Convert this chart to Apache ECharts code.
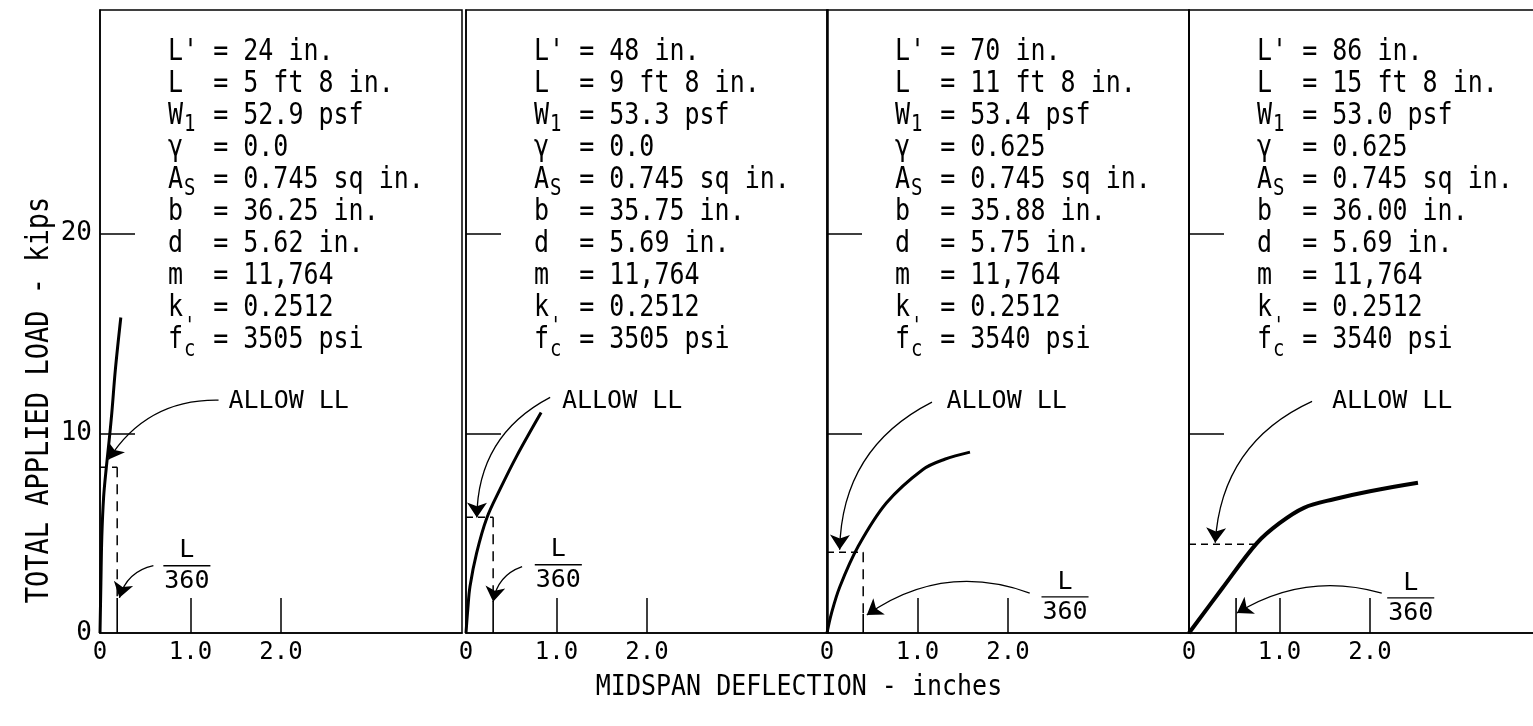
<!DOCTYPE html>
<html>
<head>
<meta charset="utf-8">
<script src="https://cdn.jsdelivr.net/npm/echarts@6/dist/echarts.min.js"></script>
<style>
  html, body { margin: 0; padding: 0; background: #fff; }
  #chart { width: 1533px; height: 726px; }
</style>
</head>
<body>
<div id="chart"></div>
<script>
// Total applied load vs. midspan deflection for four slab spans.

// Axis ticks and labels
const xTickValues = [0, 1, 2];
const xTickLabels = ['0', '1.0', '2.0'];
const yTickValues = [0, 10, 20];
const yTickLabels = ['0', '10', '20'];

// Load–deflection curves [deflection in., load kips]
const curveSpan24 = [[0, 0], [0.01, 2.5], [0.02, 4.8], [0.04, 6.8], [0.07, 8.3], [0.1, 9.6], [0.13, 11.0], [0.17, 13.2], [0.23, 15.8]];
const curveSpan48 = [[0, 0], [0.02, 1.2], [0.044, 2.33], [0.117, 4.0], [0.23, 5.76], [0.375, 7.19], [0.56, 8.86], [0.83, 11.04]];
const curveSpan70 = [[0, 0], [0.05, 1.0], [0.143, 2.33], [0.345, 4.34], [0.658, 6.52], [1.06, 8.19], [1.3, 8.7], [1.58, 9.06]];
const curveSpan86 = [[0, 0], [0.37, 2.25], [0.75, 4.5], [1.0, 5.5], [1.27, 6.27], [1.6, 6.7], [2.0, 7.1], [2.53, 7.52]];
const curves = [curveSpan24, curveSpan48, curveSpan70, curveSpan86];

// Allowable live load (kips) and deflection where it meets the curve (in.)
const allowLoad = [8.3, 5.8, 4.05, 4.45];
const allowDefl = [0.19, 0.3, 0.4, 0.74];
// L/360 deflection limit (in.) and height of its solid marker (kips)
const limitDefl = [0.19, 0.3, 0.4, 0.52];
const limitMarkTop = [1.75, 1.6, 0.95, 1.75];
const limitDashed = [true, true, true, false];

// Test parameters per span
const paramLp = ['24 in.', '48 in.', '70 in.', '86 in.'];
const paramL = ['5 ft 8 in.', '9 ft 8 in.', '11 ft 8 in.', '15 ft 8 in.'];
const paramW1 = ['52.9 psf', '53.3 psf', '53.4 psf', '53.0 psf'];
const paramGamma = ['0.0', '0.0', '0.625', '0.625'];
const paramAs = ['0.745 sq in.', '0.745 sq in.', '0.745 sq in.', '0.745 sq in.'];
const paramB = ['36.25 in.', '35.75 in.', '35.88 in.', '36.00 in.'];
const paramD = ['5.62 in.', '5.69 in.', '5.75 in.', '5.69 in.'];
const paramM = ['11,764', '11,764', '11,764', '11,764'];
const paramK = ['0.2512', '0.2512', '0.2512', '0.2512'];
const paramFc = ['3505 psi', '3505 psi', '3540 psi', '3540 psi'];

// Annotation anchors (data units)
const allowLabelAt = [[1.42, 11.6], [1.06, 11.6], [1.32, 11.6], [1.58, 11.6]];
const allowArrow = [
  [[1.31, 11.66], [0.094, 8.69]],
  [[0.93, 11.8], [0.12, 5.78]],
  [[1.16, 11.56], [0.14, 4.17]],
  [[1.36, 11.6], [0.29, 4.52]]
];
const allowArrowBend = [-0.28, -0.3, -0.3, -0.3];
const limitLabelAt = [[0.96, 3.37], [1.02, 3.42], [2.63, 1.81], [2.45, 1.76]];
const limitBarHalf = 0.26;
const limitArrow = [
  [[0.59, 3.37], [0.215, 1.76]],
  [[0.62, 3.32], [0.3, 1.56]],
  [[2.24, 2.0], [0.44, 0.9]],
  [[2.13, 2.0], [0.53, 1.0]]
];
const limitArrowBend = [-0.3, -0.3, -0.26, -0.22];

// Layout
const FONT = '"DejaVu Sans Mono", "Liberation Mono", monospace';
const INK = '#000';
const gridLeft = [100, 466, 827, 1189];
const gridTop = 10;
const gridWidth = 362;
const gridHeight = 623;
const xMax = 4;
const yMax = 31.2;
const blockFont = 25;
const blockScaleY = 1.2;
const blockTop = 52;
const blockPitch = 32;

const chart = echarts.init(document.getElementById('chart'), null, { renderer: 'canvas' });

const grids = [], xAxes = [], yAxes = [], series = [], graphics = [];

curves.forEach((curve, i) => {
  grids.push({
    left: gridLeft[i], top: gridTop, width: gridWidth, height: gridHeight,
    outerBoundsMode: 'none', containLabel: false,
    show: true, borderColor: INK, borderWidth: 1.5, backgroundColor: 'transparent'
  });
  xAxes.push({
    type: 'value', gridIndex: i, min: 0, max: xMax, interval: 1,
    axisLine: { show: true, onZero: false, lineStyle: { color: INK, width: 1.5 } },
    axisTick: { show: true, inside: true, length: 35, customValues: [1, 2], lineStyle: { color: INK, width: 1.5 } },
    axisLabel: {
      show: true, customValues: xTickValues, color: INK, fontFamily: FONT, fontSize: 24, margin: 8,
      formatter: v => xTickLabels[xTickValues.indexOf(v)]
    },
    splitLine: { show: false }
  });
  yAxes.push({
    type: 'value', gridIndex: i, min: 0, max: yMax, interval: 10,
    axisLine: { show: true, onZero: false, lineStyle: { color: INK, width: 1.5 } },
    axisTick: { show: true, inside: true, length: 35, customValues: [10, 20], lineStyle: { color: INK, width: 1.5 } },
    axisLabel: {
      show: i === 0, customValues: yTickValues, color: INK, fontFamily: FONT, fontSize: 26, margin: 8,
      formatter: v => yTickLabels[yTickValues.indexOf(v)]
    },
    splitLine: { show: false }
  });

  const ax = { xAxisIndex: i, yAxisIndex: i };
  const plain = { type: 'line', symbol: 'none', silent: true, ...ax };

  // measured curve
  series.push({ ...plain, data: curve, smooth: 0.35, lineStyle: { color: INK, width: i === 3 ? 4 : 3 } });

  // allowable live load level
  series.push({ ...plain, data: [[0, allowLoad[i]], [allowDefl[i], allowLoad[i]]],
    lineStyle: { color: INK, width: 1.5, type: [7, 5] } });

  // L/360 limit: dashed drop line and solid marker
  if (limitDashed[i]) {
    series.push({ ...plain, data: [[limitDefl[i], allowLoad[i]], [limitDefl[i], limitMarkTop[i]]],
      lineStyle: { color: INK, width: 1.5, type: [10, 7] } });
  }
  series.push({ ...plain, data: [[limitDefl[i], 0], [limitDefl[i], limitMarkTop[i]]],
    lineStyle: { color: INK, width: 1.6 } });

  // fraction bar of the L/360 label
  const lc = limitLabelAt[i];
  series.push({ ...plain, data: [[lc[0] - limitBarHalf, lc[1]], [lc[0] + limitBarHalf, lc[1]]],
    lineStyle: { color: INK, width: 1.4 } });

  // text labels
  series.push({
    type: 'scatter', ...ax, silent: true, symbolSize: 0,
    itemStyle: { opacity: 1 },
    data: [
      { value: allowLabelAt[i], name: 'ALLOW LL', label: { position: 'right', distance: 0 } },
      { value: [lc[0], lc[1] + 0.74], name: 'L', label: { position: 'inside' } },
      { value: [lc[0], lc[1] - 0.8], name: '360', label: { position: 'inside' } }
    ],
    label: { show: true, opacity: 1, formatter: p => p.name, color: INK, fontFamily: FONT, fontSize: 25,
      textBorderWidth: 0, textBorderColor: 'transparent', textShadowBlur: 0 }
  });

  // curved leader arrows
  series.push({
    type: 'lines', coordinateSystem: 'cartesian2d', ...ax, silent: true,
    symbol: ['none', 'arrow'], symbolSize: [9, 15],
    lineStyle: { color: INK, width: 1.3, opacity: 1 },
    data: [
      { coords: allowArrow[i], lineStyle: { curveness: allowArrowBend[i] } },
      { coords: limitArrow[i], lineStyle: { curveness: limitArrowBend[i] } }
    ]
  });

  // parameter block
  const x0 = gridLeft[i] + 68;
  const rowY = r => blockTop + blockPitch * r;
  const adv = blockFont * 0.602;
  const rows = [
    ["L'", paramLp[i]], ['L', paramL[i]], ['W', paramW1[i]], ['\u03b3', paramGamma[i]],
    ['A', paramAs[i]], ['b', paramB[i]], ['d', paramD[i]], ['m', paramM[i]],
    ['k', paramK[i]], ['f', paramFc[i]]
  ];
  rows.forEach((row, r) => {
    graphics.push({
      type: 'text', x: x0, y: rowY(r), scaleY: blockScaleY, silent: true,
      style: { text: row[0].padEnd(3, ' ') + '= ' + row[1], fontFamily: FONT, fontSize: blockFont,
        fill: INK, align: 'left', verticalAlign: 'middle' }
    });
  });
  const small = (txt, r, dy) => graphics.push({
    type: 'text', x: x0 + adv * 1.45, y: rowY(r) + dy, scaleY: blockScaleY, silent: true,
    style: { text: txt, fontFamily: FONT, fontSize: 19, fill: INK, align: 'center', verticalAlign: 'middle' }
  });
  small('1', 2, 9);
  small('S', 4, 9);
  small("'", 9, -13);
  small('c', 9, 10);
});

graphics.push({
  type: 'text', x: 40, y: 400, rotation: Math.PI / 2, scaleY: 1.15, silent: true,
  style: { text: 'TOTAL APPLIED LOAD - kips', fontFamily: FONT, fontSize: 27, fill: INK,
    align: 'center', verticalAlign: 'middle' }
});
graphics.push({
  type: 'text', x: 799, y: 688, scaleY: 1.15, silent: true,
  style: { text: 'MIDSPAN DEFLECTION - inches', fontFamily: FONT, fontSize: 25, fill: INK,
    align: 'center', verticalAlign: 'middle' }
});

chart.setOption({
  backgroundColor: '#fff',
  animation: false,
  grid: grids,
  xAxis: xAxes,
  yAxis: yAxes,
  series: series,
  graphic: graphics
});
</script>
</body>
</html>
